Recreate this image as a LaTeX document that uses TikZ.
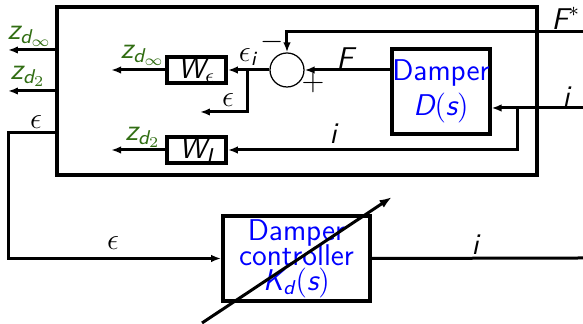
\documentclass[tikz,border=0pt]{standalone}
\usepackage{amsmath,amssymb}
\usepackage{tikz}
\usetikzlibrary{arrows.meta,positioning,calc}
\definecolor{zGreen}{RGB}{50,110,20}
\definecolor{txtBlue}{RGB}{0,0,255}
\newcommand{\sv}[1]{\textsf{\slshape #1}}

\begin{document}
\begin{tikzpicture}[
      x=0.4pt, y=-0.4pt,
      line width=1.2pt,
      every node/.style={font=\large\sffamily},
      blk/.style={draw, line width=1.5pt, inner sep=0pt},
      lbl/.style={inner sep=1pt},
      zlbl/.style={inner sep=1pt, text=zGreen},
      sig/.style={-{Latex[length=4pt,width=3pt]}}
    ]
      \useasboundingbox (0,0) rectangle (583,324);
      % plant box and its blocks
      \node[blk, minimum width=192pt, minimum height=67.2pt] (plant) at (297,91) {};
      \node[blk, minimum width=23.6pt, minimum height=10.4pt] (we) at (196.5,70) {$\sv{W}_\epsilon$};
      \node[blk, minimum width=23.6pt, minimum height=10.4pt] (wi) at (196.5,150) {$\sv{W}_{\sv{I}}$};
      \node[draw, circle, line width=0.5pt, minimum size=13.6pt, inner sep=0pt] (sum) at (287,70) {};
      \node[blk, minimum width=38.4pt, minimum height=34pt, align=center, text=txtBlue] (damp) at (441,91.5)
        {Damper\\$\sv{D}(\sv{s})$};
      % controller
      \node[blk, minimum width=58.8pt, minimum height=34pt, align=center, text=txtBlue] (ctrl) at (296.5,258.5)
        {Damper\\[-4pt]controller\\[-4pt]$\sv{K}_{\sv{d}}(\sv{s})$};
      \coordinate (fin) at (583,32);
      \coordinate (iin) at (583,108);
      \coordinate (iout) at (583,258);
      % signals inside the plant
      \draw[sig] (fin) -| (sum.north);
      \draw[sig] (damp.west |- sum.east) -- (sum.east);
      \draw[sig] (sum.west) -- (we.east);
      \draw[sig] (248,70) |- (200,112);
      \draw[sig] (iin) -- (damp.east |- iin);
      \draw[sig] (518,108) |- (wi.east);
      \draw[sig] (we.west) -- ++(-54,0);
      \draw[sig] (wi.west) -- ++(-54,0);
      % plant outputs
      \draw[sig] (plant.west |- 0,50) -- (8,50);
      \draw[sig] (plant.west |- 0,91) -- (8,91);
      \draw[sig] (plant.west |- 0,133) -- (9,133) |- (ctrl.west);
      \draw (ctrl.east) -- (iout);
      \draw[-{Latex[length=5pt,width=3.5pt]}] (202,323) -- (392,197);
      % labels
      \node[lbl] at (566,18) {$\sv{F}^*$};
      \node[lbl] at (272,42) {$-$};
      \node[lbl] at (313,83) {$+$};
      \node[lbl] at (345,58) {$\sv{F}$};
      \node[lbl] at (248,57) {$\epsilon_{\sv{i}}$};
      \node[lbl] at (228,100) {$\epsilon$};
      \node[lbl] at (566,97) {$\sv{i}$};
      \node[lbl] at (333,134) {$\sv{i}$};
      \node[zlbl] at (143,55) {$\sv{z}_{\sv{d}_\infty}$};
      \node[zlbl] at (143,137) {$\sv{z}_{\sv{d}_2}$};
      \node[zlbl] at (30,36) {$\sv{z}_{\sv{d}_\infty}$};
      \node[zlbl] at (28,76) {$\sv{z}_{\sv{d}_2}$};
      \node[lbl] at (36,122) {$\epsilon$};
      \node[lbl] at (113,243) {$\epsilon$};
      \node[lbl] at (475,245) {$\sv{i}$};
    \end{tikzpicture}
\end{document}
